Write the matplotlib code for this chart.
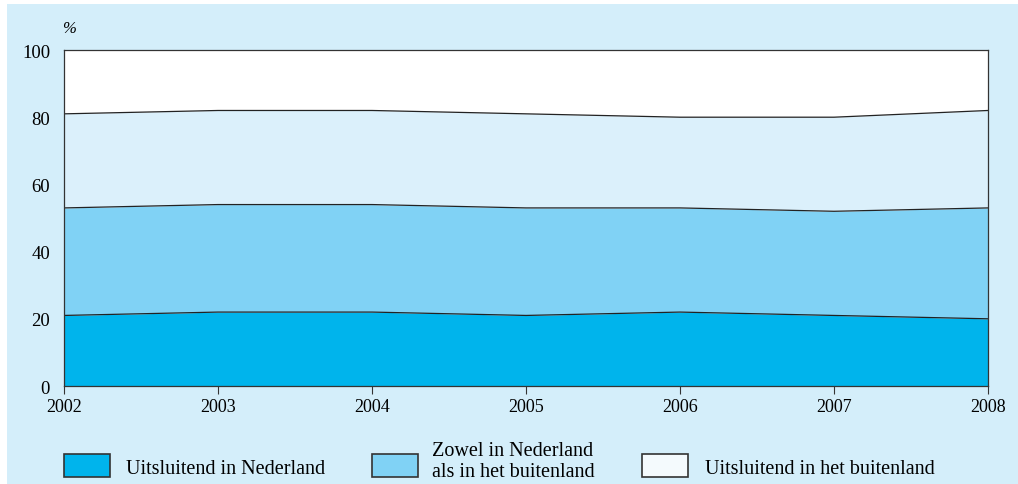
import matplotlib
matplotlib.use("Agg")
from matplotlib import pyplot as plt
from matplotlib.patches import Rectangle
import numpy as np

years = [2002, 2003, 2004, 2005, 2006, 2007, 2008]
# cumulative boundaries (%)
only_nl = [21, 22, 22, 21, 22, 21, 20]
both_top = [53, 54, 54, 53, 53, 52, 53]
abroad_top = [81, 82, 82, 81, 80, 80, 82]
yticks = [0, 20, 40, 60, 80, 100]
legend_labels = ["Uitsluitend in Nederland", "Zowel in Nederland\nals in het buitenland",
                 "Uitsluitend in het buitenland"]

c_nl = "#00b4ec"
c_both = "#80d2f5"
c_abroad = "#dbf0fb"
c_bg = "#d4eefa"

plt.rcParams['font.family'] = ['Liberation Serif', 'DejaVu Serif']

fig = plt.figure(figsize=(10.18, 4.85), dpi=100)
fig.patch.set_facecolor("white")
fig.patches.append(Rectangle((7/1018, 0), 1 - 7/1018, 1 - 5/485, transform=fig.transFigure,
                             facecolor=c_bg, edgecolor="none", zorder=-5))

ax = fig.add_axes([64/1018, 1 - 387/485, (988 - 64)/1018, (387 - 51)/485])
ax.set_zorder(2)
ax.set_facecolor("white")
x = np.array(years)
ax.fill_between(x, 0, only_nl, color=c_nl, lw=0)
ax.fill_between(x, only_nl, both_top, color=c_both, lw=0)
ax.fill_between(x, both_top, abroad_top, color=c_abroad, lw=0)
for line in (only_nl, both_top, abroad_top):
    ax.plot(x, line, color="#222222", lw=0.9)

ax.set_xlim(2002, 2008)
ax.set_ylim(0, 100)
ax.set_xticks(years)
ax.set_yticks(yticks)
ax.tick_params(axis="x", direction="out", length=6, width=0.8, labelsize=13, pad=3, color="#333333")
ax.tick_params(axis="y", length=0, labelsize=13.5, pad=10)
for s in ax.spines.values():
    s.set_color("#333333")
    s.set_linewidth(0.9)

fig.text(62/1018, 1 - 29/485, "%", fontsize=12, ha="left", va="center", style="italic")

# legend
patch_x = [64, 372, 642]
text_x = [126, 432, 705]
text_y = [470, 462, 470]
colors = [c_nl, c_both, "#f4fafd"]
for px, tx, ty, col, lab in zip(patch_x, text_x, text_y, colors, legend_labels):
    fig.patches.append(Rectangle((px/1018, 1 - 478/485), 46/1018, 23/485, transform=fig.transFigure,
                                 facecolor=col, edgecolor="#333333", lw=1.2, zorder=2))
    fig.text(tx/1018, 1 - ty/485, lab, fontsize=14.5, ha="left", va="center", linespacing=1.1)

fig.savefig("out.png", dpi=100)
